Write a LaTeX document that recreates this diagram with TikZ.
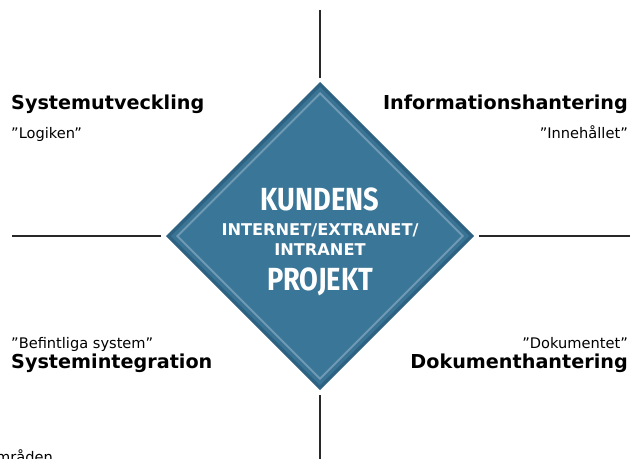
\documentclass[tikz,border=0pt]{standalone}
\usepackage{fontspec}
\setmainfont{DejaVu Sans}
\newfontfamily\kundfont[FakeStretch=0.85]{Fira Sans}
\usetikzlibrary{shapes.geometric}
\definecolor{ramyttre}{RGB}{45,98,130}
\definecolor{ramband}{RGB}{58,116,148}
\definecolor{ramljus}{RGB}{112,153,180}
\definecolor{kundfyll}{RGB}{58,118,152}
\definecolor{axelgra}{RGB}{40,40,40}
\tikzset{
  ruta/.style={diamond,aspect=1,inner sep=0pt,outer sep=0pt,draw=none},
  axel/.style={draw=axelgra,line width=1.4pt},
  rubrik/.style={font=\fontsize{19.2}{21}\selectfont\bfseries,inner sep=0pt},
  citat/.style={font=\fontsize{14.6}{16}\selectfont,inner sep=0pt},
  stor/.style={font=\kundfont\fontsize{32}{34}\selectfont\bfseries,text=white,inner sep=0pt,anchor=base},
  liten/.style={font=\fontsize{16.2}{18}\selectfont\bfseries,text=white,inner sep=0pt,anchor=base}
}
\begin{document}
\begin{tikzpicture}[x=1pt,y=-1pt]
\useasboundingbox (0,0) rectangle (631,458);
% diamond, layer by layer
\node[ruta,fill=ramyttre,minimum size=308pt] (kund) at (320,236) {};
\node[ruta,fill=ramband,minimum size=298pt] (band) at (kund.center) {};
\node[ruta,fill=ramljus,minimum size=288pt] (ljus) at (kund.center) {};
\node[ruta,fill=kundfyll,minimum size=282pt] (inre) at (kund.center) {};
% center text
\node[stor] (kundens) at (320,210) {KUNDENS};
\node[liten] (internet) at (320,235) {INTERNET/EXTRANET/};
\node[liten] (intranet) at (320,255) {INTRANET};
\node[stor] (projekt) at (320,290) {PROJEKT};
% axes
\coordinate (topp) at (320,10);
\coordinate (botten) at (320,460);
\coordinate (vanster) at (12,236);
\coordinate (hoger) at (630,236);
\draw[axel] ([yshift=4pt]kund.north) -- (topp);
\draw[axel] ([yshift=-5pt]kund.south) -- (botten);
\draw[axel] ([xshift=-5pt]kund.west) -- (vanster);
\draw[axel] ([xshift=5pt]kund.east) -- (hoger);
% labels
\node[rubrik,anchor=base west] (sysutv) at (11,109) {Systemutveckling};
\node[citat,anchor=base west] (logik) at (11,138) {”Logiken”};
\node[rubrik,anchor=base east] (info) at (628,109) {Informationshantering};
\node[citat,anchor=base east] (innehall) at (628,138) {”Innehållet”};
\node[citat,anchor=base west] (befintl) at (11,348) {”Befintliga system”};
\node[rubrik,anchor=base west] (sysint) at (11,368) {Systemintegration};
\node[citat,anchor=base east] (dokt) at (628,348) {”Dokumentet”};
\node[rubrik,anchor=base east] (dokh) at (628,368) {Dokumenthantering};
\node[citat,anchor=base east] (omr) at (53,462) {områden};
\end{tikzpicture}
\end{document}
